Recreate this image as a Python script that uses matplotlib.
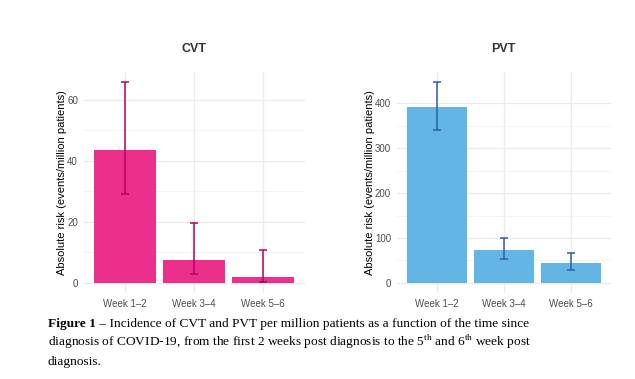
import numpy as np
import matplotlib.pyplot as plt

plt.rcParams["font.family"] = ["Liberation Sans", "DejaVu Sans"]
plt.rcParams["mathtext.fontset"] = "custom"
plt.rcParams["mathtext.rm"] = "Liberation Serif"
plt.rcParams["mathtext.bf"] = "Liberation Serif:bold"

weeks = ["Week 1\u20132", "Week 3\u20134", "Week 5\u20136"]

cvt_risk = [43.7, 7.5, 1.9]
cvt_low = [29.2, 3.0, 0.2]
cvt_high = [66.0, 19.6, 10.8]

pvt_risk = [391, 73, 44]
pvt_low = [341, 53, 29]
pvt_high = [448, 99, 66]

W, H = 635, 379
fig = plt.figure(figsize=(W / 100, H / 100), dpi=100)


def panel(rect, title, risk, low, high, bar_col, err_col, ymax_tick, step):
    l, b, r, t = rect
    ax = fig.add_axes([l / W, 1 - b / H, (r - l) / W, (b - t) / H])
    x = np.arange(1, len(weeks) + 1)
    risk = np.array(risk)
    yerr = [risk - np.array(low), np.array(high) - risk]
    ax.bar(x, risk, width=0.9, color=bar_col, zorder=2)
    ax.errorbar(x, risk, yerr=yerr, fmt="none", ecolor=err_col,
                elinewidth=1.1, capsize=3, capthick=1.1, zorder=3)
    top = max(high)
    ax.set_xlim(0.4, len(weeks) + 0.6)
    ax.set_ylim(-0.05 * top, top * 1.05)
    ax.set_xticks(x)
    ax.set_xticklabels(weeks)
    ax.set_yticks(np.arange(0, ymax_tick + 1, step))
    ax.set_yticks(np.arange(step / 2, top, step), minor=True)
    ax.grid(True, which="major", color="#EBEBEB", linewidth=0.9, zorder=0)
    ax.grid(True, which="minor", axis="y", color="#F2F2F2", linewidth=0.6, zorder=0)
    ax.tick_params(which="both", length=0, labelsize=7, labelcolor="#4D4D4D", pad=4)
    for s in ax.spines.values():
        s.set_visible(False)
    ax.set_ylabel("Absolute risk (events/million patients)", fontsize=8, labelpad=0)
    ax.set_title(title, fontsize=9, fontweight="bold", color="#333333", pad=14)
    ax.set_axisbelow(True)
    return ax


panel((83.6, 293, 304.6, 71.6), "CVT", cvt_risk, cvt_low, cvt_high,
      "#EC2F8A", "#B8005E", 60, 20)
panel((396.5, 293, 610.9, 71.6), "PVT", pvt_risk, pvt_low, pvt_high,
      "#63B5E5", "#2B5FA8", 400, 100)

cap_font = dict(family="Liberation Serif", fontsize=9.6, va="baseline")
x0 = 48 / W
bold = fig.text(x0, 1 - 327 / H, "Figure 1", fontweight="bold", **cap_font)
fig.canvas.draw()
bb = bold.get_window_extent(fig.canvas.get_renderer())
fig.text(bb.x1 / W, 1 - 327 / H,
         " \u2013 Incidence of CVT and PVT per million patients as a function of the time since",
         **cap_font)
fig.text(x0, 1 - 346 / H,
         "diagnosis of COVID-19, from the first 2 weeks post diagnosis to the 5$^{\\rm th}$ and 6$^{\\rm th}$ week post",
         **cap_font)
fig.text(x0, 1 - 365 / H, "diagnosis.", **cap_font)

plt.savefig("out.png", dpi=100)
